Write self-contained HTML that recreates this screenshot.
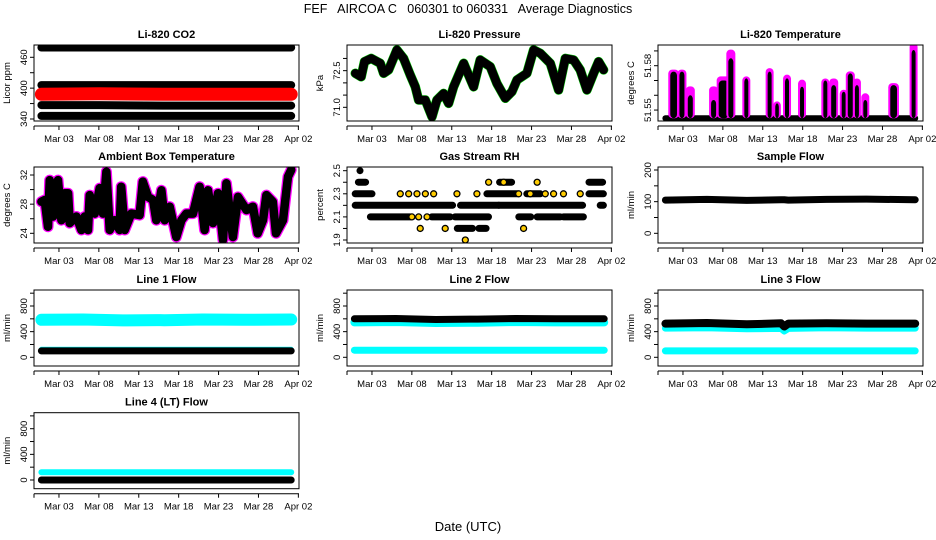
<!DOCTYPE html>
<html><head><meta charset="utf-8">
<style>
html,body{margin:0;padding:0;background:#fff;}
svg{display:block;font-family:"Liberation Sans",sans-serif;}
</style></head>
<body>
<svg id="chart" width="936" height="540" viewBox="0 0 936 540" xmlns="http://www.w3.org/2000/svg">
<text x="468" y="13" text-anchor="middle" font-size="12.5" xml:space="preserve">FEF   AIRCOA C   060301 to 060331   Average Diagnostics</text>
<text x="468" y="531" text-anchor="middle" font-size="13">Date (UTC)</text>
</svg>
<script>
// ---- shared x axis ----
const xTickDays = [3, 8, 13, 18, 23, 28, 33];
const xTickLabels = ["Mar 03", "Mar 08", "Mar 13", "Mar 18", "Mar 23", "Mar 28", "Apr 02"];

// ---- Li-820 CO2 (bands) ----
const co2Days = [0.8, 8, 16, 24, 32.1];
const co2Top = [479, 479, 479, 479, 479];
const co2High = [406, 406, 406, 406, 406];
const co2Red = [388, 389, 388, 388, 388];
const co2Low = [367, 367, 366, 366, 366];
const co2Bottom = [346, 346, 346, 346, 346];

// ---- Li-820 Pressure ----
const presDays = [0.91,1.65,2.07,2.9,4.04,4.46,5.09,6.13,6.97,7.8,8.43,8.85,9.68,10.52,11.14,11.98,12.61,13.23,14.49,15.11,15.74,16.57,17.83,18.66,19.71,20.54,21.17,22.42,23.26,24.09,25.35,26.39,27.23,28.27,29.1,29.94,30.78,31.4,32.03];
const presVals = [72.39,72.25,72.87,73.0,72.8,72.39,72.53,73.35,73.0,72.32,71.84,71.3,71.3,70.61,71.3,71.57,71.16,71.84,72.8,72.32,71.84,72.94,72.66,71.98,71.37,71.64,72.12,72.39,73.35,73.21,72.8,71.71,73.0,72.94,72.53,71.71,72.39,72.87,72.53];

// ---- Li-820 Temperature spikes ----
const ltDays = [1.83,2.87,3.92,6.84,8.1,9.0,10.94,13.86,14.79,16.04,17.92,20.84,21.89,23.14,23.97,24.8,25.85,29.4,31.9];
const ltDur = [0.84,0.63,0.63,0.63,1.25,0.63,0.5,0.5,0.45,0.5,0.5,0.5,0.63,0.5,0.63,0.5,0.5,0.84,0.5];
const ltMagenta = [51.576,51.576,51.5647,51.5647,51.5714,51.5895,51.5714,51.577,51.5545,51.5726,51.5692,51.570,51.570,51.5624,51.5748,51.570,51.560,51.5669,51.594];
const ltBlack = [51.576,51.576,51.560,51.5568,51.570,51.585,51.5714,51.576,51.5545,51.5714,51.5658,51.570,51.5669,51.5624,51.5748,51.5669,51.5568,51.5669,51.5906];
const ltBase = 51.5445;

// ---- Ambient box temperature ----
const ambDays = [0.8,1.21,1.63,1.84,2.26,2.88,3.3,3.72,4.14,4.35,5.18,5.81,6.23,6.64,6.85,7.48,8.1,8.52,8.94,9.36,9.98,10.6,10.8,11.24,12.07,13.1,13.5,14.16,14.8,15.2,15.84,16.25,16.88,17.7,18.34,18.97,19.8,20.63,21.25,21.68,22.3,22.93,23.56,23.98,24.8,25.43,26.5,27.3,27.9,28.57,29,29.8,30.2,31.07,31.7,32.1];
const ambVals = [28.34,28.57,24.9,31.3,26.3,31.3,25.8,29.5,29.5,25.4,26.3,24.45,26.3,24.45,29.25,26.7,30.2,26.7,32.45,24.45,25.8,24.45,30.4,24.45,26.7,26.5,31.1,29.0,28.57,25.8,29.9,25.8,27.65,23.5,25.8,26.7,26.7,30.4,24.45,29.9,25.4,29.5,23.1,30.86,23.5,29.0,27.2,27.65,24.0,25.8,29.25,28.34,24.0,25.8,31.77,32.7];

// ---- Gas stream RH ----
const rhRunLevel = [2.2,2.2,2.2,2.2,2.3,2.3,2.3,2.3,2.1,2.1,2.1,2.1,2.1,2.1,2.4,2.4,2.4,2.0,2.0,2.5];
const rhRunStart = [0.9,14.1,18.9,31.6,0.9,17.4,22.4,30.2,2.8,10.5,13.4,21.4,23.7,27.0,1.3,19.0,30.2,13.7,16.4,1.5];
const rhRunEnd = [13.1,18.9,29.4,32.0,3.0,21.2,24.1,32.0,7.8,12.8,17.6,22.9,26.6,29.5,2.2,20.5,31.9,15.6,17.3,1.5];
const rhPtDays = [6.55,7.6,8.64,9.69,10.73,13.65,16.15,21.38,22.84,24.72,25.76,27.0,29.1,8.0,8.85,9.9,9.05,12.18,22.0,14.7,17.62,19.5,23.7];
const rhPtVals = [2.3,2.3,2.3,2.3,2.3,2.3,2.3,2.3,2.3,2.3,2.3,2.3,2.3,2.1,2.1,2.1,2.0,2.0,2.0,1.9,2.4,2.4,2.4];

// ---- Flows ----
const flowDays = [0.8, 6, 11, 15.3, 15.7, 16.2, 21, 26, 32.1];
const sampleFlow = [105, 107, 104, 106, 106, 105, 107, 108, 106];
const line1Cyan = [585, 590, 575, 580, 580, 578, 590, 585, 590];
const line1Low = [125, 125, 125, 125, 125, 125, 125, 125, 125];
const line1Black = [100, 100, 100, 100, 100, 100, 100, 100, 100];
const line2Black = [600, 605, 590, 595, 595, 595, 605, 600, 600];
const line2Cyan = [545, 550, 535, 540, 540, 540, 550, 545, 545];
const line2Low = [110, 110, 110, 110, 110, 110, 110, 110, 110];
const line3Black = [525, 535, 515, 530, 480, 525, 530, 525, 525];
const line3Cyan = [455, 460, 445, 450, 410, 450, 460, 455, 455];
const line3Low = [100, 100, 100, 100, 100, 100, 100, 100, 100];
const line4Cyan = [120, 120, 120, 120, 120, 120, 120, 120, 120];
const line4Black = [0, 0, 0, 0, 0, 0, 0, 0, 0];

const NS = "http://www.w3.org/2000/svg";
const svg = document.getElementById("chart");
function mk(tag, attrs, parent) {
  const e = document.createElementNS(NS, tag);
  for (const k in attrs) e.setAttribute(k, attrs[k]);
  (parent || svg).appendChild(e);
  return e;
}
const colX = [34, 347, 658];
const rowY = [45, 167, 290, 412.7];
const W = 265, H = 76;

function panel(name, col, row, ymin, ymax, ticks, labels, title, ylab) {
  const x0 = colX[col], y0 = rowY[row];
  const g = mk("g", {});
  
  
  const sx = d => x0 + 9 + (d - 1) * 7.98;
  const sy = v => y0 + H - (v - ymin) / (ymax - ymin) * H;
  const t = mk("text", {x: x0 + W / 2, y: y0 - 7, "text-anchor": "middle", "font-size": "11", "font-weight": "bold"}, g);
  t.textContent = title;
  
  
  const yl = mk("text", {transform: `translate(${x0 - 24},${y0 + H / 2}) rotate(-90)`, "text-anchor": "middle", "font-size": "9.5"}, g);
  yl.textContent = ylab;
  
  
  const ax = mk("g", {stroke: "#000", "stroke-width": "1"}, g);
  
  
  const ay = y0 + H + 5;
  mk("line", {x1: x0, x2: x0 + W, y1: ay, y2: ay}, ax);
  mk("line", {x1: x0, x2: x0, y1: ay, y2: ay + 4}, ax);
  xTickDays.forEach((d, i) => {
    mk("line", {x1: sx(d), x2: sx(d), y1: ay, y2: ay + 4}, ax);
    const tl = mk("text", {x: sx(d), y: ay + 16, "text-anchor": "middle", "font-size": "9.5", stroke: "none"}, ax);
    tl.textContent = xTickLabels[i];
    
    
  });
  const yx = mk("g", {stroke: "#000"}, g);
  
  
  ticks.forEach(v => {
    mk("line", {x1: x0 - 4, x2: x0, y1: sy(v), y2: sy(v)}, yx);
  });
  labels.forEach(l => {
    const tl = mk("text", {transform: `translate(${x0 - 7},${sy(l[0])}) rotate(-90)`, "text-anchor": "middle", "font-size": "9.5", stroke: "none"}, yx);
    tl.textContent = l[1];
    
    
  });
  const clipId = "clip-" + name;
  const cp = mk("clipPath", {id: clipId}, g);
  mk("rect", {x: x0, y: y0, width: W, height: H}, cp);
  const marks = mk("g", {"clip-path": `url(#${clipId})`}, g);
  const box = mk("rect", {x: x0, y: y0, width: W, height: H, fill: "none", stroke: "#000", "stroke-width": "1"}, g);
  
  
  return {sx, sy, marks, name};
}
function band(p, days, vals, color, width, nm) {
  const d = days.map((dd, i) => (i ? "L" : "M") + p.sx(dd).toFixed(1) + "," + p.sy(vals[i]).toFixed(1)).join("");
  const e = mk("path", {d, fill: "none", stroke: color, "stroke-width": width, "stroke-linecap": "round", "stroke-linejoin": "round"}, p.marks);
  
  
  return e;
}

let p = panel("co2", 0, 0, 336.1, 483.9, [340, 370, 400, 430, 460], [[340, "340"], [400, "400"], [460, "460"]], "Li-820 CO2", "Licor ppm");
band(p, co2Days, co2Top, "#000", 8, "co2-band-top");
band(p, co2Days, co2High, "#000", 8, "co2-band-high");
band(p, co2Days, co2Low, "#000", 8, "co2-band-low");
band(p, co2Days, co2Bottom, "#000", 8, "co2-band-bottom");
band(p, co2Days, co2Red, "#ff0000", 13, "co2-band-red");

p = panel("pressure", 1, 0, 70.44, 73.55, [71, 71.5, 72, 72.5, 73], [[71, "71.0"], [72.5, "72.5"]], "Li-820 Pressure", "kPa");
band(p, presDays, presVals, "#00cc00", 9.5, "pressure-line-green");
band(p, presDays, presVals, "#000", 8.5, "pressure-line");

p = panel("li-temp", 2, 0, 51.5426, 51.5940, [51.55, 51.56, 51.57, 51.58, 51.59], [[51.55, "51.55"], [51.58, "51.58"]], "Li-820 Temperature", "degrees C");
band(p, [0.8, 32.1], [ltBase, ltBase], "#000", 6, "li-temp-baseline");
ltDays.forEach((d, i) => {
  const w = ltDur[i] * 7.98;
  const m = mk("rect", {x: p.sx(d) - w / 2 - 2, y: p.sy(ltMagenta[i]) - 2, width: w + 4, height: p.sy(ltBase) - p.sy(ltMagenta[i]) + 2, fill: "#ff00ff", rx: 4}, p.marks);
  
  
  const b = mk("rect", {x: p.sx(d) - w / 2, y: p.sy(ltBlack[i]), width: w, height: p.sy(ltBase) - p.sy(ltBlack[i]), fill: "#000", rx: 4}, p.marks);
  
  
});

p = panel("ambient", 0, 1, 22.67, 33.1, [24, 26, 28, 30, 32], [[24, "24"], [28, "28"], [32, "32"]], "Ambient Box Temperature", "degrees C");
band(p, ambDays, ambVals, "#ff00ff", 11, "ambient-line-magenta");
band(p, ambDays, ambVals, "#000", 8.5, "ambient-line");

p = panel("rh", 1, 1, 1.874, 2.532, [1.9, 2.0, 2.1, 2.2, 2.3, 2.4, 2.5], [[1.9, "1.9"], [2.1, "2.1"], [2.3, "2.3"], [2.5, "2.5"]], "Gas Stream RH", "percent");
rhRunLevel.forEach((lv, i) => {
  band(p, [rhRunStart[i], rhRunEnd[i]], [lv, lv], "#000", 7, "rh-run");
});
rhPtDays.forEach((d, i) => {
  const c = mk("circle", {cx: p.sx(d), cy: p.sy(rhPtVals[i]), r: 3, fill: "#ffcc00", stroke: "#000", "stroke-width": 1.3}, p.marks);
  
  
});

p = panel("sample-flow", 2, 1, -30.6, 209.5, [0, 50, 100, 150, 200], [[0, "0"], [100, "100"], [200, "200"]], "Sample Flow", "ml/min");
band(p, flowDays, sampleFlow, "#000", 7, "sample-flow-line");

const fT = [0, 200, 400, 600, 800, 1000], fL = [[0, "0"], [400, "400"], [800, "800"]];
p = panel("line1-flow", 0, 2, -135.7, 1049.6, fT, fL, "Line 1 Flow", "ml/min");
band(p, flowDays, line1Cyan, "#00ffff", 12, "line1-cyan-high");
band(p, flowDays, line1Low, "#00ffff", 5, "line1-cyan-low");
band(p, flowDays, line1Black, "#000", 7, "line1-black");

p = panel("line2-flow", 1, 2, -135.7, 1049.6, fT, fL, "Line 2 Flow", "ml/min");
band(p, flowDays, line2Cyan, "#00ffff", 8, "line2-cyan-high");
band(p, flowDays, line2Low, "#00ffff", 7, "line2-cyan-low");
band(p, flowDays, line2Black, "#000", 7, "line2-black");

p = panel("line3-flow", 2, 2, -135.7, 1049.6, fT, fL, "Line 3 Flow", "ml/min");
band(p, flowDays, line3Cyan, "#00ffff", 7, "line3-cyan-high");
band(p, flowDays, line3Low, "#00ffff", 7, "line3-cyan-low");
band(p, flowDays, line3Black, "#000", 8, "line3-black");

p = panel("line4-flow", 0, 3, -135.7, 1049.6, fT, fL, "Line 4 (LT) Flow", "ml/min");
band(p, flowDays, line4Cyan, "#00ffff", 6, "line4-cyan");
band(p, flowDays, line4Black, "#000", 7, "line4-black");
</script>
</body></html>
